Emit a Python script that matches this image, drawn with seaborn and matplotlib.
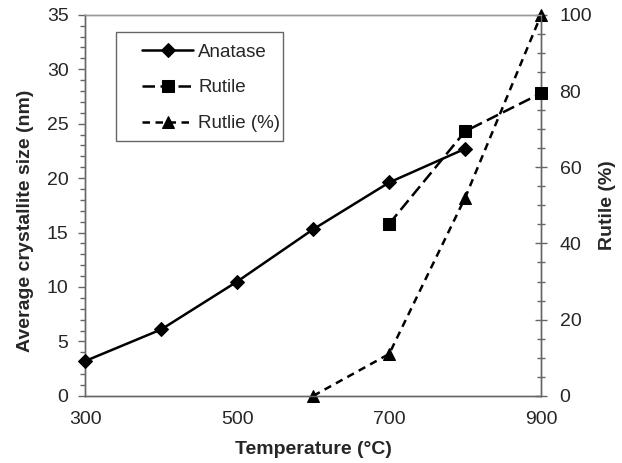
import matplotlib
matplotlib.use("Agg")
import matplotlib.pyplot as plt
import seaborn as sns
import pandas as pd
from matplotlib.ticker import MultipleLocator
from matplotlib.patches import Rectangle

sns.set_style("white")
plt.rcParams['font.family'] = ['Liberation Sans', 'DejaVu Sans']

temp_anatase = [300, 400, 500, 600, 700, 800]
anatase_size = [3.2, 6.1, 10.5, 15.3, 19.6, 22.7]
temp_rutile = [700, 800, 900]
rutile_size = [15.8, 24.3, 27.8]
temp_pct = [600, 700, 800, 900]
rutile_pct = [0, 11, 52, 100]

fig, ax = plt.subplots(figsize=(6.22, 4.63), dpi=100)
fig.subplots_adjust(left=0.137, right=0.870, top=0.968, bottom=0.145)
ax2 = ax.twinx()

df_a = pd.DataFrame({"T": temp_anatase, "v": anatase_size})
df_r = pd.DataFrame({"T": temp_rutile, "v": rutile_size})
df_p = pd.DataFrame({"T": temp_pct, "v": rutile_pct})

sns.lineplot(data=df_a, x="T", y="v", ax=ax, color="black", lw=1.8,
             marker="D", markersize=7, markeredgecolor="black", label="Anatase", legend=False)
sns.lineplot(data=df_r, x="T", y="v", ax=ax, color="black", lw=1.8,
             marker="s", markersize=8.5, markeredgecolor="black", label="Rutile", legend=False)
ax.lines[-1].set_dashes([5.0, 2.2])
sns.lineplot(data=df_p, x="T", y="v", ax=ax2, color="black", lw=1.8,
             marker="^", markersize=9, markeredgecolor="black", label="Rutlie (%)", legend=False)
ax2.lines[-1].set_dashes([3.0, 2.2])

for a in (ax, ax2):
    for l in a.lines:
        l.set_clip_on(False)
        l.set_zorder(5)

ax.set_xlim(300, 900)
ax.set_ylim(0, 35)
ax2.set_ylim(0, 100)
ax.set_xticks([300, 500, 700, 900])
ax.yaxis.set_major_locator(MultipleLocator(5))
ax.yaxis.set_minor_locator(MultipleLocator(1))
ax2.yaxis.set_major_locator(MultipleLocator(20))
ax2.yaxis.set_minor_locator(MultipleLocator(5))

ax.set_xlabel("Temperature (°C)", fontsize=14, fontweight="bold")
ax.xaxis.set_label_coords(0.5, -0.118)
ax.set_ylabel("Average crystallite size (nm)", fontsize=14, fontweight="bold")
ax.yaxis.set_label_coords(-0.112, 0.459)
ax2.set_ylabel("Rutile (%)", fontsize=14, fontweight="bold", labelpad=5)

tc = "#666666"
ax.tick_params(axis="x", which="major", direction="out", length=5, width=1, color=tc, labelsize=14, pad=6)
ax.tick_params(axis="y", which="major", direction="out", length=5, width=1, color=tc, labelsize=14, pad=7)
ax.tick_params(axis="y", which="minor", direction="out", length=3.5, width=1, color=tc, left=True)
ax2.tick_params(axis="y", which="major", direction="inout", length=8.5, width=1, color=tc, labelsize=14, pad=9)
ax2.tick_params(axis="y", which="minor", direction="inout", length=5.5, width=1, color=tc, right=True)

for a in (ax, ax2):
    for s in a.spines.values():
        s.set_color(tc)
        s.set_linewidth(1)
    a.spines["top"].set_color("#999999")

# legend frame
ax.add_patch(Rectangle((0.068, 0.669), 0.366, 0.286, transform=ax.transAxes,
                       facecolor="white", edgecolor="#666666", lw=1, zorder=9, clip_on=False))

handles = ax.lines + ax2.lines
labels = ["Anatase", "Rutile", "Rutlie (%)"]
leg = ax.legend(handles, labels, loc="upper left", bbox_to_anchor=(0.125, 0.925),
                fontsize=13.5, frameon=False,
                handlelength=2.7, labelspacing=1.0, borderpad=0, handletextpad=0.3,
                borderaxespad=0)
leg.set_zorder(10)
ax.set_zorder(ax2.get_zorder() + 1)
ax.patch.set_visible(False)

fig.savefig("out.png", dpi=100)
